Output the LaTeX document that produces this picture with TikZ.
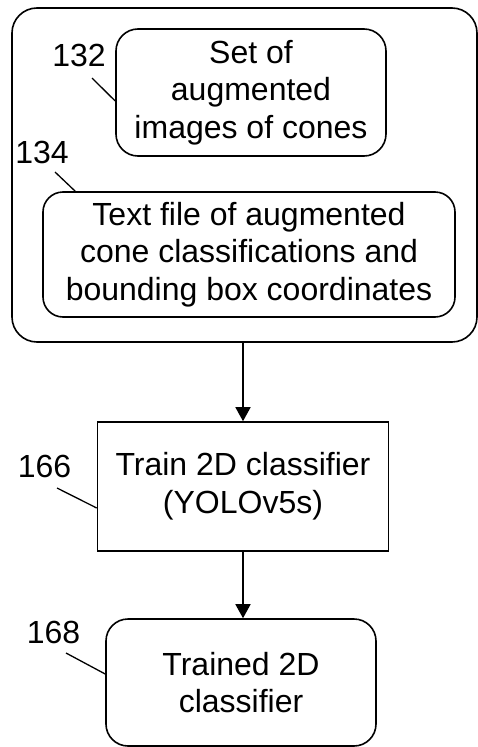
\documentclass[tikz,border=0pt]{standalone}
\usepackage{fontspec}
\setmainfont{Liberation Sans}
\usetikzlibrary{arrows.meta}
\tikzset{
  box/.style={draw, line width=1.6pt, align=center, inner sep=0pt,
    font=\fontsize{32}{37.7}\selectfont},
  rbox/.style={box, rounded corners=22pt},
  num/.style={inner sep=0pt, font=\fontsize{32}{37.7}\selectfont},
  flow/.style={line width=1.6pt, -{Triangle[length=14pt,width=15pt]}},
  lead/.style={line width=1.3pt}
}
\begin{document}
\begin{tikzpicture}[x=1pt,y=-1pt]
  \useasboundingbox (0,0) rectangle (478,747);
  \node[rbox, rounded corners=25pt, minimum width=465pt, minimum height=334pt]
    (store) at (244.5,175) {};
  \node[rbox, minimum width=270pt, minimum height=127pt]
    (images) at (251,92.5) {Set of\\augmented\\images of cones};
  \node[rbox, rounded corners=20pt, minimum width=412pt, minimum height=125pt]
    (labels) at (249,254.5) {Text file of augmented\\cone classifications and\\bounding box coordinates};
  \node[box, minimum width=291pt, minimum height=129pt]
    (train) at (243,486.5) {Train 2D classifier\\(YOLOv5s)};
  \node[rbox, minimum width=270pt, minimum height=127pt]
    (model) at (241,682.5) {Trained 2D\\classifier};
  \node[num] (n132) at (79,55) {132};
  \node[num] (n134) at (42,152) {134};
  \node[num] (n166) at (44.5,466) {166};
  \node[num] (n168) at (53.5,632) {168};
  \coordinate (c132) at (92,78);
  \coordinate (c134) at (55,172);
  \coordinate (c166) at (57,488);
  \coordinate (c168) at (66,653);
  \begin{scope}[lead]
    \draw (c132) -- ([yshift=-8.5pt]images.west);
    \draw (c134) -- ([xshift=33pt]labels.north west);
    \draw (c166) -- ([yshift=-21.5pt]train.west);
    \draw (c168) -- ([yshift=8.5pt]model.west);
  \end{scope}
  \draw[flow] (train.north |- store.south) -- (train.north);
  \draw[flow] (train.south) -- (train.south |- model.north);
\end{tikzpicture}
\end{document}
